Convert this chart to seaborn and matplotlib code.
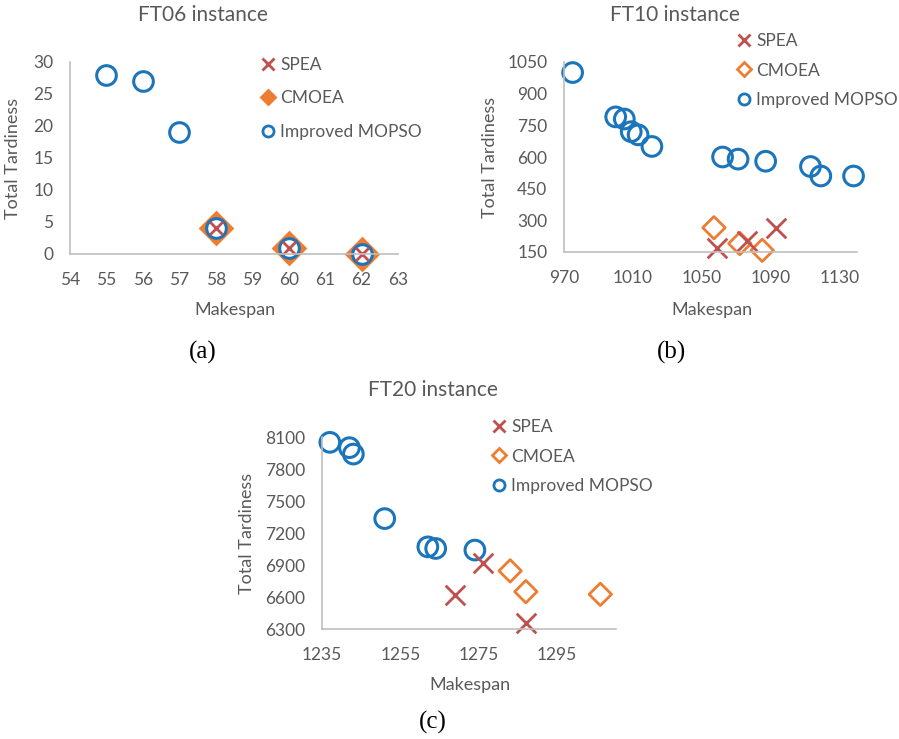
import matplotlib
matplotlib.use("Agg")
import matplotlib.pyplot as plt
from matplotlib.lines import Line2D
import seaborn as sns
import pandas as pd

# --- DATA ---
ft06_mopso_x = [55, 56, 57, 58, 60, 62]
ft06_mopso_y = [28, 27, 19, 4, 1, 0]
ft06_spea_x = [58, 60, 62]
ft06_spea_y = [4, 1, 0]
ft06_cmoea_x = [58, 60, 62]
ft06_cmoea_y = [4, 1, 0]

ft10_mopso_x = [975, 1000, 1005, 1009, 1013, 1021, 1062, 1071, 1087, 1113, 1119, 1138]
ft10_mopso_y = [1000, 790, 780, 720, 705, 650, 600, 590, 580, 555, 510, 510]
ft10_spea_x = [1059, 1076, 1093]
ft10_spea_y = [170, 200, 265]
ft10_cmoea_x = [1057, 1072, 1085]
ft10_cmoea_y = [265, 190, 158]

ft20_mopso_x = [1237, 1242, 1243, 1251, 1262, 1264, 1274]
ft20_mopso_y = [8050, 8000, 7940, 7335, 7070, 7055, 7040]
ft20_spea_x = [1269, 1276, 1287]
ft20_spea_y = [6620, 6920, 6355]
ft20_cmoea_x = [1283, 1287, 1306]
ft20_cmoea_y = [6845, 6650, 6625]

methods = ["SPEA", "CMOEA", "Improved MOPSO"]

BLUE = "#1B75BB"
ORANGE = "#ED7D31"
RED = "#C0504D"
GREY_TXT = "#595959"
GREY_AX = "#BFBFBF"

W, H = 899, 739

sns.set_theme(style="white")
plt.rcParams["font.family"] = ["Lato", "DejaVu Sans"]


def px_axes(fig, l, t, r, b):
    return fig.add_axes([l / W, 1 - b / H, (r - l) / W, (b - t) / H])


def make_df(x, y, name):
    return pd.DataFrame({"Makespan": x, "Total Tardiness": y, "method": name})


def style_axes(ax, xlim, ylim, xticks, yticks):
    ax.set_xlim(*xlim)
    ax.set_ylim(*ylim)
    ax.set_xticks(xticks)
    ax.set_yticks(yticks)
    for side in ["top", "right"]:
        ax.spines[side].set_visible(False)
    for side in ["left", "bottom"]:
        ax.spines[side].set_color(GREY_AX)
        ax.spines[side].set_linewidth(1.2)
    ax.tick_params(axis="both", length=0, labelsize=12.5, colors=GREY_TXT)
    ax.tick_params(axis="x", pad=13)
    ax.tick_params(axis="y", pad=12)
    ax.set_xlabel("")
    ax.set_ylabel("")
    ax.set_facecolor("none")


def draw_panel(ax, spea, cmoea, mopso, filled_diamond):
    d_c = make_df(*cmoea, "CMOEA")
    d_m = make_df(*mopso, "Improved MOPSO")
    d_s = make_df(*spea, "SPEA")
    if filled_diamond:
        sns.scatterplot(data=d_c, x="Makespan", y="Total Tardiness", ax=ax, marker="D",
                        s=330, color=ORANGE, edgecolor=ORANGE, linewidth=0, clip_on=False, legend=False)
    else:
        sns.scatterplot(data=d_c, x="Makespan", y="Total Tardiness", ax=ax, marker="D",
                        s=130, facecolor="none", edgecolor=ORANGE, linewidth=2.0, clip_on=False, legend=False)
    # FT06 chart uses white-filled circles, the others are hollow
    sns.scatterplot(data=d_m, x="Makespan", y="Total Tardiness", ax=ax, marker="o",
                    s=200, facecolor="white" if filled_diamond else "none",
                    edgecolor=BLUE, linewidth=2.2, clip_on=False, legend=False)
    xs = 90 if filled_diamond else 200
    sns.scatterplot(data=d_s, x="Makespan", y="Total Tardiness", ax=ax, marker="x",
                    s=xs, color=RED, linewidth=2.0, clip_on=False, legend=False)


def add_legend(ax, fig, x, y, filled_diamond, spacing):
    handles = [
        Line2D([], [], ls="none", marker="x", color=RED, markersize=8, markeredgewidth=2),
        Line2D([], [], ls="none", marker="D", markersize=7,
               markerfacecolor=ORANGE if filled_diamond else "none",
               markeredgecolor=ORANGE, markeredgewidth=2),
        Line2D([], [], ls="none", marker="o", markersize=8, markerfacecolor="none",
               markeredgecolor=BLUE, markeredgewidth=2),
    ]
    leg = ax.legend(handles, methods, loc="upper left", bbox_to_anchor=(x / W, 1 - y / H),
                    bbox_transform=fig.transFigure, frameon=False, fontsize=12.5,
                    handlelength=0.8, handletextpad=0.3, labelspacing=spacing,
                    borderpad=0, borderaxespad=0)
    for t in leg.get_texts():
        t.set_color(GREY_TXT)


fig = plt.figure(figsize=(W / 100, H / 100), dpi=100)

# (a) FT06
ax_a = px_axes(fig, 70, 62, 398, 254)
draw_panel(ax_a, (ft06_spea_x, ft06_spea_y), (ft06_cmoea_x, ft06_cmoea_y),
           (ft06_mopso_x, ft06_mopso_y), True)
style_axes(ax_a, (54, 63), (0, 30), range(54, 64), range(0, 31, 5))
add_legend(ax_a, fig, 261, 57, True, 1.0)

# (b) FT10
ax_b = px_axes(fig, 564, 62, 857, 252)
draw_panel(ax_b, (ft10_spea_x, ft10_spea_y), (ft10_cmoea_x, ft10_cmoea_y),
           (ft10_mopso_x, ft10_mopso_y), False)
style_axes(ax_b, (970, 1140), (150, 1050), range(970, 1131, 40), range(150, 1051, 150))
add_legend(ax_b, fig, 737, 33, False, 0.78)

# (c) FT20
ax_c = px_axes(fig, 322, 437, 616, 629)
draw_panel(ax_c, (ft20_spea_x, ft20_spea_y), (ft20_cmoea_x, ft20_cmoea_y),
           (ft20_mopso_x, ft20_mopso_y), False)
style_axes(ax_c, (1235, 1310), (6300, 8100), range(1235, 1296, 20), range(6300, 8101, 300))
add_legend(ax_c, fig, 492, 419, False, 0.78)

# titles, axis labels and panel tags
for cx, cy, title in [(203, 15, "FT06 instance"), (675, 15, "FT10 instance"), (433, 390, "FT20 instance")]:
    fig.text(cx / W, 1 - cy / H, title, ha="center", va="center", fontsize=15, color=GREY_TXT)
for cx, cy in [(235, 310), (712, 310), (470, 685)]:
    fig.text(cx / W, 1 - cy / H, "Makespan", ha="center", va="center", fontsize=13, color=GREY_TXT)
for cx, cy in [(13, 158), (490, 157), (247, 533)]:
    fig.text(cx / W, 1 - cy / H, "Total Tardiness", ha="center", va="center", fontsize=13,
             color=GREY_TXT, rotation=90)
for cx, cy, tag in [(203, 352, "(a)"), (672, 352, "(b)"), (433, 722, "(c)")]:
    fig.text(cx / W, 1 - cy / H, tag, ha="center", va="center", fontsize=18,
             color="black", family="Liberation Serif")

fig.savefig("out.png", dpi=100, facecolor="white")
